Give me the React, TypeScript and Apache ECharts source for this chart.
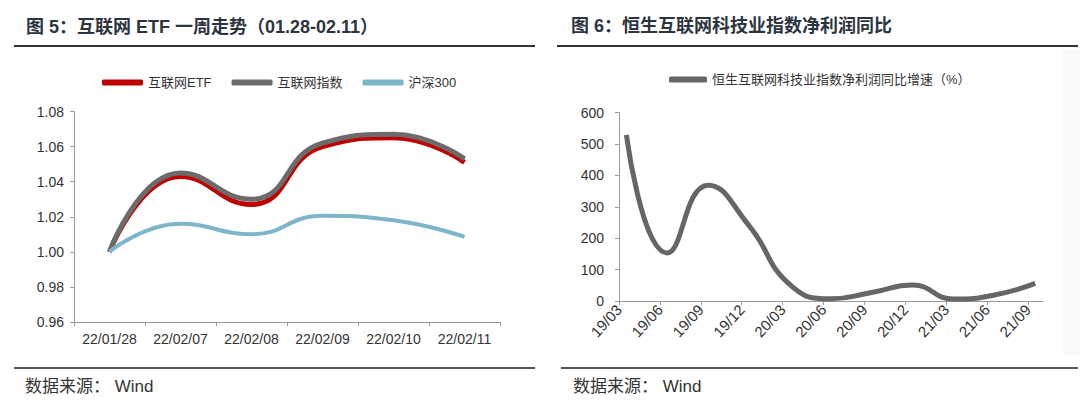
import React, { useEffect, useRef } from "react";
import * as echarts from "echarts";

// ---- Left chart data (图5) ----
const leftDates = ["22/01/28", "22/02/07", "22/02/08", "22/02/09", "22/02/10", "22/02/11"];
const etfValues = [1.0, 1.043, 1.027, 1.06, 1.065, 1.051];
const netIndexValues = [1.0, 1.045, 1.03, 1.062, 1.067, 1.053];
const hs300Values = [1.0, 1.016, 1.01, 1.0205, 1.018, 1.0085];
const leftSeriesNames = ["互联网ETF", "互联网指数", "沪深300"];

// ---- Right chart data (图6) ----
const quarters = ["19/03", "19/06", "19/09", "19/12", "20/03", "20/06", "20/09", "20/12", "21/03", "21/06", "21/09"];
const profitYoY = [529, 153, 369, 240, 52, 7, 27, 51, 6, 19, 56];
const rightSeriesName = "恒生互联网科技业指数净利润同比增速（%）";

const titleLeft = "图 5：互联网 ETF 一周走势（01.28-02.11）";
const titleRight = "图 6：恒生互联网科技业指数净利润同比";
const sourceText = "数据来源： Wind";

const FONT = "'Liberation Sans', Arial, 'Noto Sans CJK SC', sans-serif";
const CJK = "'Liberation Sans', 'Noto Sans CJK SC', sans-serif";

export default function App() {
  const ref = useRef<HTMLDivElement>(null);
  useEffect(() => {
    document.body.style.margin = "0";
    const chart = echarts.init(ref.current!, null, { renderer: "svg" });
    const axisLineStyle = { color: "#9a9a9a", width: 1 };
    const labelStyle = { color: "#333", fontSize: 14, fontFamily: FONT };
    const tickIdx = quarters.map((_, i) => i);
    chart.setOption({
      animation: false,
      backgroundColor: "#ffffff",
      textStyle: { fontFamily: CJK },
      legend: [
        {
          left: 97,
          top: 71,
          icon: "roundRect",
          itemWidth: 41,
          itemHeight: 6,
          itemGap: 20,
          textStyle: { color: "#333", fontSize: 13, fontFamily: CJK },
          data: leftSeriesNames,
        },
        {
          left: 664,
          top: 68,
          icon: "roundRect",
          itemWidth: 38,
          itemHeight: 6,
          textStyle: { color: "#333", fontSize: 13, fontFamily: CJK },
          data: [rightSeriesName],
        },
      ],
      grid: [
        { left: 74, top: 111.5, width: 426, height: 210.5, outerBoundsMode: "none" },
        { left: 619, top: 112.6, width: 424, height: 188.4, outerBoundsMode: "none" },
      ],
      xAxis: [
        {
          gridIndex: 0,
          type: "category",
          data: leftDates,
          boundaryGap: true,
          axisLine: { lineStyle: axisLineStyle },
          axisTick: { show: true, length: 4, lineStyle: axisLineStyle },
          axisLabel: { ...labelStyle, margin: 10, interval: 0 },
          splitLine: { show: false },
        },
        {
          gridIndex: 1,
          type: "value",
          min: 0,
          max: 10.37,
          interval: 1,
          axisLine: { lineStyle: axisLineStyle },
          axisTick: { show: true, length: 4, lineStyle: axisLineStyle, customValues: tickIdx },
          axisLabel: {
            ...labelStyle,
            fontSize: 15,
            rotate: 47,
            margin: 6,
            customValues: tickIdx,
            formatter: (v: number) => quarters[Math.round(v)] ?? "",
          },
          splitLine: { show: false },
        },
        {
          gridIndex: 1,
          type: "value",
          min: -0.18,
          max: 10.19,
          show: false,
          splitLine: { show: false },
        },
      ],
      yAxis: [
        {
          gridIndex: 0,
          type: "value",
          min: 0.96,
          max: 1.08,
          interval: 0.02,
          axisLine: { show: true, lineStyle: axisLineStyle },
          axisTick: { show: true, length: 4, lineStyle: axisLineStyle },
          axisLabel: { ...labelStyle, margin: 10, formatter: (v: number) => v.toFixed(2) },
          splitLine: { show: false },
        },
        {
          gridIndex: 1,
          type: "value",
          min: 0,
          max: 600,
          interval: 100,
          axisLine: { show: true, lineStyle: axisLineStyle },
          axisTick: { show: true, length: 4, lineStyle: axisLineStyle },
          axisLabel: { ...labelStyle, margin: 15 },
          splitLine: { show: false },
        },
      ],
      series: [
        {
          name: leftSeriesNames[0],
          type: "line",
          xAxisIndex: 0,
          yAxisIndex: 0,
          data: etfValues,
          smooth: true,
          showSymbol: false,
          lineStyle: { color: "#C00000", width: 5 },
          itemStyle: { color: "#C00000" },
        },
        {
          name: leftSeriesNames[1],
          type: "line",
          xAxisIndex: 0,
          yAxisIndex: 0,
          data: netIndexValues,
          smooth: true,
          showSymbol: false,
          lineStyle: { color: "#6b6b6b", width: 5 },
          itemStyle: { color: "#6b6b6b" },
        },
        {
          name: leftSeriesNames[2],
          type: "line",
          xAxisIndex: 0,
          yAxisIndex: 0,
          data: hs300Values,
          smooth: true,
          showSymbol: false,
          lineStyle: { color: "#7db5ca", width: 4 },
          itemStyle: { color: "#7db5ca" },
        },
        {
          name: rightSeriesName,
          type: "line",
          xAxisIndex: 2,
          yAxisIndex: 1,
          data: profitYoY.map((v, i) => [i, v]),
          smooth: true,
          showSymbol: false,
          lineStyle: { color: "#666666", width: 5 },
          itemStyle: { color: "#666666" },
        },
      ],
      graphic: [
        { type: "rect", shape: { x: 1063, y: 50, width: 17, height: 305 }, style: { fill: "#f9f9f9" }, silent: true },
        {
          type: "text",
          x: 26,
          y: 27,
          style: { text: titleLeft, fontSize: 18, fontWeight: "bold", fill: "#2c3440", fontFamily: CJK, verticalAlign: "middle" },
        },
        {
          type: "text",
          x: 571,
          y: 26,
          style: { text: titleRight, fontSize: 18, fontWeight: "bold", fill: "#2c3440", fontFamily: CJK, verticalAlign: "middle" },
        },
        { type: "line", shape: { x1: 14, y1: 46, x2: 535, y2: 46 }, style: { stroke: "#333", lineWidth: 2 } },
        { type: "line", shape: { x1: 557, y1: 46, x2: 1078, y2: 46 }, style: { stroke: "#333", lineWidth: 2 } },
        { type: "line", shape: { x1: 14, y1: 368, x2: 535, y2: 368 }, style: { stroke: "#555", lineWidth: 2 } },
        { type: "line", shape: { x1: 561, y1: 368, x2: 1078, y2: 368 }, style: { stroke: "#555", lineWidth: 2 } },
        {
          type: "text",
          x: 25,
          y: 386,
          style: { text: sourceText, fontSize: 17, fill: "#333", fontFamily: CJK, verticalAlign: "middle" },
        },
        {
          type: "text",
          x: 573,
          y: 386,
          style: { text: sourceText, fontSize: 17, fill: "#333", fontFamily: CJK, verticalAlign: "middle" },
        },
      ],
    });
    return () => chart.dispose();
  }, []);
  return <div ref={ref} style={{ width: 1080, height: 406 }} />;
}
